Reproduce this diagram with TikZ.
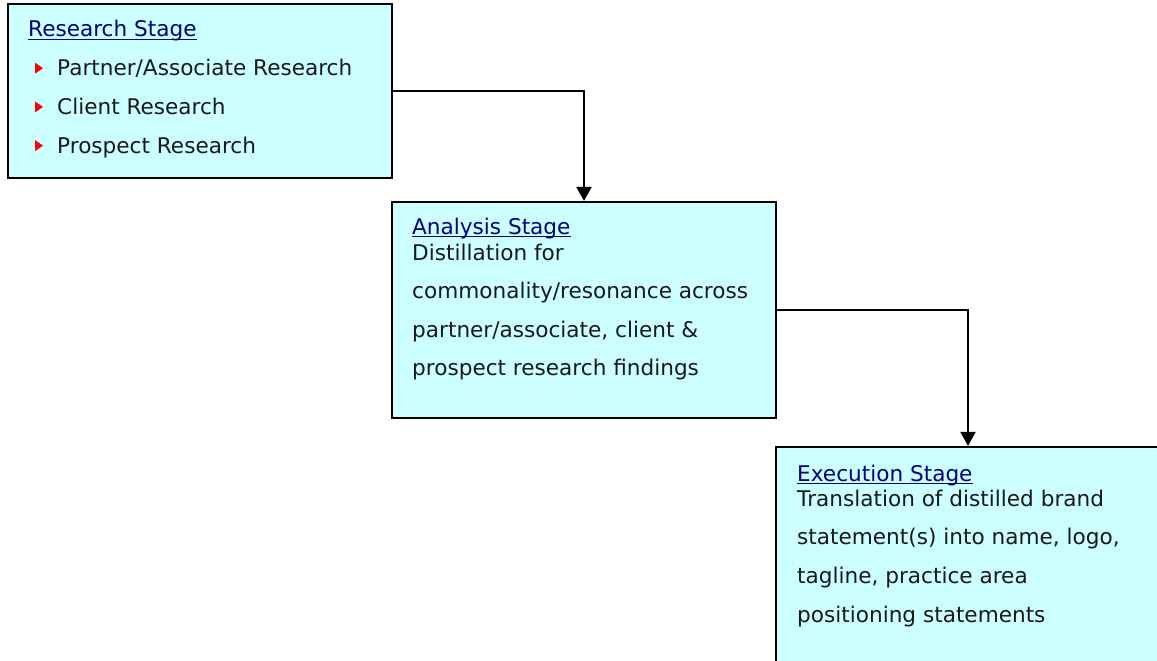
\documentclass[tikz,border=0pt]{standalone}
\usepackage{fontspec}
\setmainfont{DejaVu Sans}
\usetikzlibrary{arrows.meta}
\definecolor{stagefill}{HTML}{CCFFFF}
\definecolor{titleblue}{HTML}{000080}

\begin{document}
\begin{tikzpicture}[x=1pt,y=-1pt,
    stage/.style={draw=black,line width=2.2pt,fill=stagefill,minimum width=384pt,inner sep=0pt},
    txt/.style={anchor=base west,inner sep=0pt,text=black!90,font=\fontsize{21.6}{25}\selectfont},
    stagetitle/.style={txt,text=titleblue},
    uline/.style={draw=titleblue,line width=1.3pt},
    flow/.style={line width=2pt,-{Triangle[width=15pt,length=14pt]}},
    bullet/.style={fill=red}]
  \useasboundingbox (0,0) rectangle (1157,661);
  % the three stage boxes
  \node[stage,minimum height=174pt] (research) at (200,91) {};
  \node[stage,minimum height=216pt] (analysis) at (584,310) {};
  \node[stage,minimum height=216pt] (execution) at (968,555) {};
  \draw[flow] (research.east) -| (analysis.north);
  \draw[flow] (analysis.east) -| (execution.north);
  % research stage
  \node[stagetitle] (researchtitle) at (28,37) {Research Stage};
  \draw[uline] ([yshift=-2.5pt]researchtitle.base west) -- ([yshift=-2.5pt]researchtitle.base east);
  \foreach \entry [count=\i] in {Partner/Associate Research, Client Research, Prospect Research} {
    \node[txt] (research\i) at (57,37+38.7*\i) {\entry};
    \fill[bullet] ([xshift=-22pt,yshift=2pt]research\i.base west) -- ++(8pt,5.5pt) -- ++(-8pt,5.5pt) -- cycle;
  }
  % analysis stage
  \node[stagetitle] (analysistitle) at (412,234) {Analysis Stage};
  \draw[uline] ([yshift=-2.5pt]analysistitle.base west) -- ([yshift=-2.5pt]analysistitle.base east);
  \foreach \entry [count=\i] in {Distillation for, commonality/resonance across, {partner/associate, client \&}, prospect research findings}
    \node[txt] (analysis\i) at (412,221.5+38.5*\i) {\entry};
  % execution stage
  \node[stagetitle] (executiontitle) at (797,481) {Execution Stage};
  \draw[uline] ([yshift=-2.5pt]executiontitle.base west) -- ([yshift=-2.5pt]executiontitle.base east);
  \foreach \entry [count=\i] in {Translation of distilled brand, {statement(s) into name, logo,}, {tagline, practice area}, positioning statements}
    \node[txt] (execution\i) at (797,467.3+38.7*\i) {\entry};
\end{tikzpicture}
\end{document}
